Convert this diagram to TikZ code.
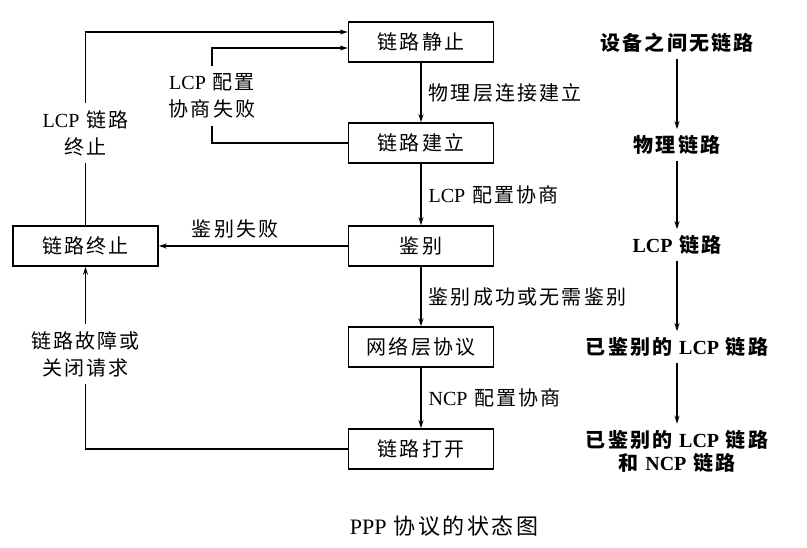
\documentclass[tikz,border=0pt]{standalone}
\usepackage{fontspec}
\setmainfont{Liberation Serif}
\newfontfamily\cjk[LetterSpace=11]{Noto Sans CJK SC}
\newcommand\ltn[1]{{\rmfamily #1}}
\usetikzlibrary{arrows.meta}
\begin{document}
\begin{tikzpicture}[x=1pt,y=-1pt,
    font=\cjk\fontsize{20}{27}\selectfont,
    state/.style={draw,line width=1.5pt,minimum width=145pt,minimum height=40pt,inner sep=0pt},
    cond/.style={inner sep=7pt,align=center},
    link/.style={font=\cjk\bfseries\fontsize{20}{23}\selectfont,inner sep=6pt,align=center},
    arr/.style={-{Stealth[length=8pt,width=5pt]},line width=1.3pt},
    seg/.style={line width=1.3pt}]
    \useasboundingbox (0,0) rectangle (807,547);
    % states
    \node[state] (quiet) at (421,42)  {链路静止};
    \node[state] (est)   at (421,143) {链路建立};
    \node[state] (auth)  at (421,246) {鉴别};
    \node[state] (net)   at (421,347) {网络层协议};
    \node[state] (open)  at (421,449) {链路打开};
    \node[state] (term)  at (85.5,246) {链路终止};
    % main path
    \draw[arr] (quiet) -- (est)  node [cond,midway,right] (phys) {物理层连接建立};
    \draw[arr] (est)   -- (auth) node [cond,midway,right] (lcpcfg) {\ltn{LCP} 配置协商};
    \draw[arr] (auth)  -- (net)  node [cond,midway,right] (authok) {鉴别成功或无需鉴别};
    \draw[arr] (net)   -- (open) node [cond,midway,right] (ncpcfg) {\ltn{NCP} 配置协商};
    % back edges
    \node[cond] (lcpend)  at (85.5,133) {\ltn{LCP} 链路\\终止};
    \node[cond] (cfgfail) at (212,96)   {\ltn{LCP} 配置\\协商失败};
    \node[cond] (fault)   at (85.5,354) {链路故障或\\关闭请求};
    \draw[seg] (term) -- (lcpend);
    \draw[arr] (lcpend) |- ([yshift=10pt]quiet.west);
    \draw[seg] (est) -| (cfgfail);
    \draw[arr] (cfgfail) |- ([yshift=-6pt]quiet.west);
    \draw[arr] (auth) -- (term) node [cond,midway,above,xshift=-18pt] (authfail) {鉴别失败};
    \draw[seg] (open) -| (fault);
    \draw[arr] (fault) -- (term);
    % link phases
    \node[link] (r1) at (677,43)  {设备之间无链路};
    \node[link] (r2) at (677,145) {物理链路};
    \node[link] (r3) at (677,245) {\ltn{LCP} 链路};
    \node[link] (r4) at (677,347) {已鉴别的 \ltn{LCP} 链路};
    \node[link] (r5) at (677,451) {已鉴别的 \ltn{LCP} 链路\\和 \ltn{NCP} 链路};
    \draw[arr] (r1) -- (r2);
    \draw[arr] (r2) -- (r3);
    \draw[arr] (r3) -- (r4);
    \draw[arr] (r4) -- (r5);
    % caption
    \node (caption) at (444,526) {\fontsize{22}{26}\selectfont\ltn{PPP} 协议的状态图};
\end{tikzpicture}
\end{document}
